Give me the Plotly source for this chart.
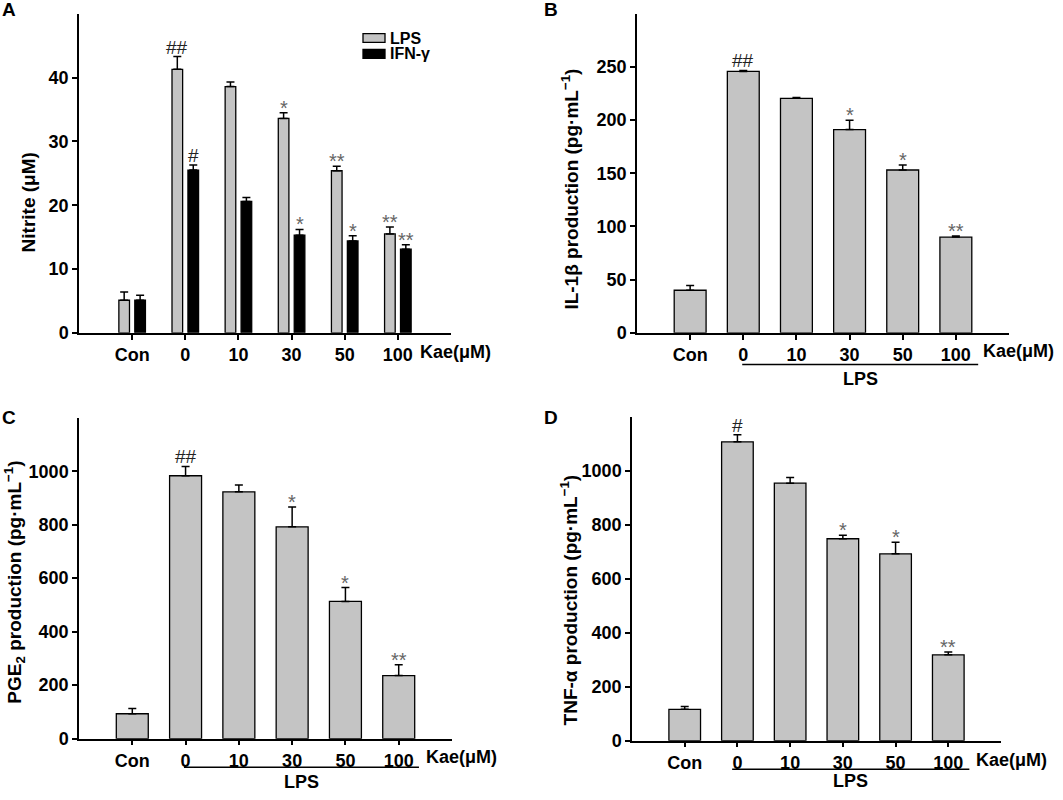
import plotly.graph_objects as go

W, H = 1063, 800

# ---------------- data ----------------
categories = ["Con", "0", "10", "30", "50", "100"]

# Panel A: Nitrite (uM)
nitrite_lps = [5.1, 41.3, 38.6, 33.6, 25.4, 15.5]
nitrite_lps_err = [1.3, 2.0, 0.7, 0.9, 0.7, 1.1]
nitrite_ifn = [5.1, 25.5, 20.6, 15.3, 14.4, 13.1]
nitrite_ifn_err = [0.8, 0.8, 0.6, 0.9, 0.8, 0.7]
nitrite_lps_sig = ["", "##", "", "*", "**", "**"]
nitrite_ifn_sig = ["", "#", "", "*", "*", "**"]

# Panel B: IL-1beta
il1b = [40, 245.8, 220.5, 191.1, 153.1, 90]
il1b_err = [4.5, 1.0, 0.7, 8.7, 4.6, 1.0]
il1b_sig = ["", "##", "", "*", "*", "**"]

# Panel C: PGE2
pge2 = [93, 983, 923, 792, 513, 236]
pge2_err = [20, 35, 25, 74, 52, 40]
pge2_sig = ["", "##", "", "*", "*", "**"]

# Panel D: TNF-alpha
tnfa = [116, 1107, 954, 748, 692, 318]
tnfa_err = [10, 26, 21, 13, 43, 10]
tnfa_sig = ["", "#", "", "*", "*", "**"]

# ---------------- style ----------------
FONT = "Arial, Liberation Sans, sans-serif"
GRAY = "#c4c4c4"
xs = list(range(len(categories)))


def px_x(p):
    return p / W


def px_y(p):
    return 1 - p / H


fig = go.Figure()


def add_bar(y, err, xaxis, yaxis, color, width, offset, name):
    fig.add_trace(go.Bar(
        x=xs, y=y, name=name, xaxis=xaxis, yaxis=yaxis,
        width=width, offset=offset,
        marker=dict(color=color, line=dict(color="black", width=1.3)),
        error_y=dict(type="data", symmetric=False, array=err,
                     arrayminus=[0] * len(err), color="black",
                     thickness=1.5, width=4),
        showlegend=False,
    ))


# Panel A
add_bar(nitrite_lps, nitrite_lps_err, "x", "y", GRAY, 0.2, -0.25, "LPS")
add_bar(nitrite_ifn, nitrite_ifn_err, "x", "y", "black", 0.2, 0.05, "IFN-γ")
# Panels B, C, D
add_bar(il1b, il1b_err, "x2", "y2", GRAY, 0.6, -0.3, "IL-1β")
add_bar(pge2, pge2_err, "x3", "y3", GRAY, 0.6, -0.3, "PGE2")
add_bar(tnfa, tnfa_err, "x4", "y4", GRAY, 0.6, -0.3, "TNF-α")

tickfont = dict(family=FONT, size=18, color="black", weight="bold")


def xax(domain, anchor):
    return dict(domain=domain, anchor=anchor, range=[-1, 6],
                tickmode="array", tickvals=xs, ticktext=categories,
                showline=True, linecolor="black", linewidth=1.5,
                ticks="outside", ticklen=5, tickwidth=1.5, tickcolor="black",
                showgrid=False, zeroline=False, tickfont=tickfont,
                fixedrange=True)


def yax(domain, anchor, rng, tickvals):
    return dict(domain=domain, anchor=anchor, range=rng,
                tickmode="array", tickvals=tickvals,
                showline=True, linecolor="black", linewidth=1.5,
                ticks="outside", ticklen=5, tickwidth=1.5, tickcolor="black",
                showgrid=False, zeroline=False, tickfont=tickfont,
                fixedrange=True)


fig.update_layout(
    width=W, height=H,
    margin=dict(l=0, r=0, t=0, b=0),
    paper_bgcolor="white", plot_bgcolor="white",
    barmode="overlay",
    xaxis=xax([px_x(79), px_x(451)], "y"),
    yaxis=yax([px_y(337), px_y(14)], "x", [0, 50], [0, 10, 20, 30, 40]),
    xaxis2=xax([px_x(637), px_x(1009)], "y2"),
    yaxis2=yax([px_y(337), px_y(14)], "x2", [0, 300], [0, 50, 100, 150, 200, 250]),
    xaxis3=xax([px_x(79), px_x(452)], "y3"),
    yaxis3=yax([px_y(748), px_y(423)], "x3", [0, 1200], [0, 200, 400, 600, 800, 1000]),
    xaxis4=xax([px_x(632), px_x(1001)], "y4"),
    yaxis4=yax([px_y(750), px_y(422)], "x4", [0, 1200], [0, 200, 400, 600, 800, 1000]),
    showlegend=False,
)

ann = []


def sig_marks(vals, errs, sigs, xref, yref, dx=0.0):
    for i, (v, e, s) in enumerate(zip(vals, errs, sigs)):
        if not s:
            continue
        is_hash = "#" in s
        ann.append(dict(
            x=i + dx, y=v + e, xref=xref, yref=yref, text=s, showarrow=False,
            xanchor="center", yanchor="bottom",
            yshift=-3 if is_hash else -8,
            font=dict(family=FONT, size=19 if is_hash else 20,
                      color="#222" if is_hash else "#666"),
        ))


sig_marks(nitrite_lps, nitrite_lps_err, nitrite_lps_sig, "x", "y", -0.15)
sig_marks(nitrite_ifn, nitrite_ifn_err, nitrite_ifn_sig, "x", "y", 0.15)
sig_marks(il1b, il1b_err, il1b_sig, "x2", "y2")
sig_marks(pge2, pge2_err, pge2_sig, "x3", "y3")
sig_marks(tnfa, tnfa_err, tnfa_sig, "x4", "y4")

labfont = dict(family=FONT, size=18, color="black", weight="bold")
titlefont = dict(family=FONT, size=19, color="black", weight="bold")

# y-axis titles
titles = [
    ("Nitrite (μM)", 28, 205),
    ("IL-1β production (pg·mL<sup>−1</sup>)", 570, 192),
    ("PGE<sub>2</sub> production (pg·mL<sup>−1</sup>)", 15, 590),
    ("TNF-α production (pg·mL<sup>−1</sup>)", 569, 608),
]
for t, x, y in titles:
    ann.append(dict(text=t, x=px_x(x), y=px_y(y), xref="paper", yref="paper",
                    showarrow=False, textangle=-90, xanchor="center",
                    yanchor="middle", font=titlefont))

# panel letters
for t, x, y in [("A", 0, 0), ("B", 542, 0), ("C", 0, 413), ("D", 542, 413)]:
    ann.append(dict(text=t, x=px_x(x), y=px_y(y), xref="paper", yref="paper",
                    showarrow=False, xanchor="left", yanchor="top", yshift=3,
                    font=dict(family=FONT, size=19, color="black", weight="bold")))

# "Kae(μM)" labels
for xr, x, y in [("x", 5.38, 356), ("x2", 5.48, 355), ("x3", 5.48, 767), ("x4", 5.48, 770)]:
    ann.append(dict(text="Kae(μM)", x=x, y=px_y(y), xref=xr, yref="paper",
                    showarrow=False, xanchor="left", yanchor="middle", font=labfont))

# LPS grouping lines + labels
shapes = []
for xr, x0, x1, yl, yt in [("x2", 0.98, 5.42, 369, 384),
                           ("x3", 0.97, 5.38, 777, 792),
                           ("x4", 0.9, 5.4, 779, 791)]:
    shapes.append(dict(type="line", xref=xr, yref="paper", x0=x0, x1=x1,
                       y0=px_y(yl), y1=px_y(yl), line=dict(color="black", width=1.5)))
    ann.append(dict(text="LPS", x=(x0 + x1) / 2, y=px_y(yt), xref=xr, yref="paper",
                    showarrow=False, xanchor="center", yanchor="middle", font=labfont))

# manual legend for panel A
for name, color, y0, y1 in [("LPS", GRAY, 34, 43), ("IFN-γ", "black", 50, 59)]:
    shapes.append(dict(type="rect", xref="paper", yref="paper",
                       x0=px_x(363), x1=px_x(385), y0=px_y(y1), y1=px_y(y0),
                       fillcolor=color, line=dict(color="black", width=1.3)))
    ann.append(dict(text=name, x=px_x(388), y=px_y((y0 + y1) / 2), xref="paper",
                    yref="paper", showarrow=False, xanchor="left", yanchor="middle",
                    font=dict(family=FONT, size=16, color="black", weight="bold")))

fig.update_layout(annotations=ann, shapes=shapes)
fig.write_html("out.html", config={"displayModeBar": False},
               post_script="document.body.style.margin='0px';document.body.style.padding='0px';")
